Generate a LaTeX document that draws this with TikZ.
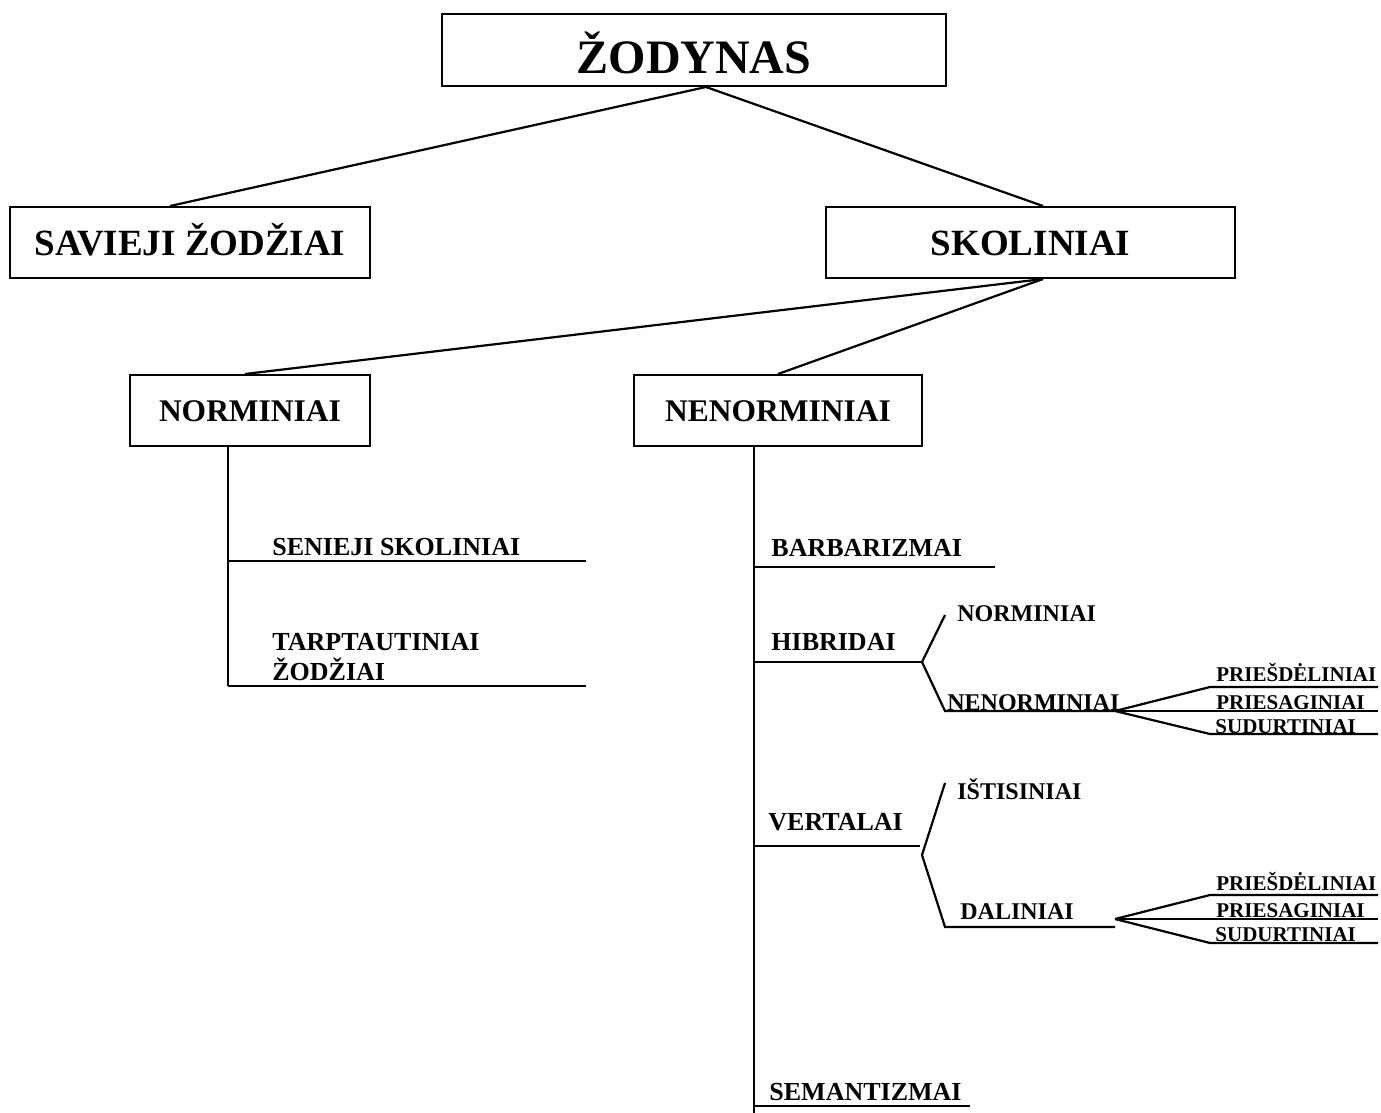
\documentclass[tikz,border=0pt]{standalone}
\usepackage{fontspec}
\setmainfont{Liberation Serif}
\begin{document}
\begin{tikzpicture}[x=0.5pt,y=-0.5pt,
  box/.style={draw, line width=1pt, inner sep=0pt, text depth=0pt},
  ln/.style={line width=1.1pt},
  lbl/.style={anchor=base west, inner sep=0pt, font=\bfseries\fontsize{13}{15}\selectfont},
  mlbl/.style={anchor=base west, inner sep=0pt, font=\bfseries\fontsize{12}{14}\selectfont},
  slbl/.style={anchor=base west, inner sep=0pt, font=\bfseries\fontsize{10.5}{12}\selectfont}]
\useasboundingbox (0,0) rectangle (1381,1113);

% boxes
\node[box, minimum width=252pt, minimum height=36pt, text height=24pt, font=\bfseries\fontsize{24}{28}\selectfont] (zod) at (694,50) {ŽODYNAS};
\node[box, minimum width=180pt, minimum height=35.5pt, text height=12.5pt, font=\bfseries\fontsize{18.5}{22}\selectfont] (sav) at (190,242.5) {SAVIEJI ŽODŽIAI};
\node[box, minimum width=204.5pt, minimum height=35.5pt, text height=12.5pt, font=\bfseries\fontsize{18.5}{22}\selectfont] (sko) at (1030.5,242.5) {SKOLINIAI};
\node[box, minimum width=120pt, minimum height=35.5pt, text height=10.5pt, font=\bfseries\fontsize{15.75}{19}\selectfont] (nor) at (250,410.5) {NORMINIAI};
\node[box, minimum width=144pt, minimum height=35.5pt, text height=10.5pt, font=\bfseries\fontsize{15.75}{19}\selectfont] (nen) at (778,410.5) {NENORMINIAI};

% top connectors
\draw[ln] ([xshift=6pt]zod.south) -- ([xshift=-10pt]sav.north);
\draw[ln] ([xshift=6pt]zod.south) -- ([xshift=6.25pt]sko.north);
\draw[ln] ([xshift=6.25pt]sko.south) -- ([xshift=-2.5pt]nor.north);
\draw[ln] ([xshift=6.25pt]sko.south) -- (nen.north);

% left branch
\coordinate (lv) at (228,686);
\coordinate (l1a) at (228,561); \coordinate (l1b) at (586,561);
\coordinate (l2b) at (586,686);
\draw[ln] (nor.south -| lv) -- (lv);
\draw[ln] (l1a) -- (l1b);
\draw[ln] (lv) -- (l2b);
\node[lbl] (sen) at (272,555) {SENIEJI SKOLINIAI};
\node[lbl] (tar1) at (272,650) {TARPTAUTINIAI};
\node[lbl] (tar2) at (272,680) {ŽODŽIAI};

% right branch trunk
\coordinate (rv) at (754,1113);
\draw[ln] (nen.south -| rv) -- (rv);
\coordinate (b0) at (754,567); \coordinate (b1) at (995,567);
\coordinate (h0) at (754,662); \coordinate (h1) at (922,662);
\coordinate (v0) at (754,846); \coordinate (v1) at (920,846);
\coordinate (s0) at (754,1106); \coordinate (s1) at (970,1106);
\draw[ln] (b0) -- (b1);
\draw[ln] (h0) -- (h1);
\draw[ln] (v0) -- (v1);
\draw[ln] (s0) -- (s1);
\node[lbl] (bar) at (771,556) {BARBARIZMAI};
\node[lbl] (hib) at (771,650) {HIBRIDAI};
\node[lbl] (ver) at (768,830) {VERTALAI};
\node[lbl] (sem) at (769,1100) {SEMANTIZMAI};

% hibridai fork
\coordinate (hu) at (945,615); \coordinate (hd) at (945,711); \coordinate (hd1) at (1115,711);
\draw[ln] (hu) -- (h1) -- (hd) -- (hd1);
\node[mlbl] (hn) at (957,621) {NORMINIAI};
\node[mlbl] (hnn) at (947,710) {NENORMINIAI};

% sub-fan 1
\coordinate (f1a) at (1210,687); \coordinate (f1b) at (1210,711); \coordinate (f1c) at (1210,734);
\coordinate (e1a) at (1378,687); \coordinate (e1b) at (1378,711); \coordinate (e1c) at (1378,734);
\draw[ln] (hd1) -- (f1a) -- (e1a);
\draw[ln] (hd1) -- (f1b) -- (e1b);
\draw[ln] (hd1) -- (f1c) -- (e1c);
\node[slbl] (p1) at (1216,681) {PRIEŠDĖLINIAI};
\node[slbl] (q1) at (1216,709) {PRIESAGINIAI};
\node[slbl] (r1) at (1215,733) {SUDURTINIAI};

% vertalai fork
\coordinate (vx) at (922,855);
\coordinate (vu) at (945,783); \coordinate (vd) at (945,927); \coordinate (vd1) at (1115,927);
\draw[ln] (vu) -- (vx) -- (vd) -- (vd1);
\node[mlbl] (ist) at (957,799) {IŠTISINIAI};
\node[mlbl] (dal) at (960,919) {DALINIAI};

% sub-fan 2
\coordinate (dv) at (1115,919);
\coordinate (f2a) at (1210,895); \coordinate (f2b) at (1210,919); \coordinate (f2c) at (1210,943);
\coordinate (e2a) at (1378,895); \coordinate (e2b) at (1378,919); \coordinate (e2c) at (1378,943);
\draw[ln] (dv) -- (f2a) -- (e2a);
\draw[ln] (dv) -- (f2b) -- (e2b);
\draw[ln] (dv) -- (f2c) -- (e2c);
\node[slbl] (p2) at (1216,890) {PRIEŠDĖLINIAI};
\node[slbl] (q2) at (1216,917) {PRIESAGINIAI};
\node[slbl] (r2) at (1215,941) {SUDURTINIAI};
\end{tikzpicture}
\end{document}
